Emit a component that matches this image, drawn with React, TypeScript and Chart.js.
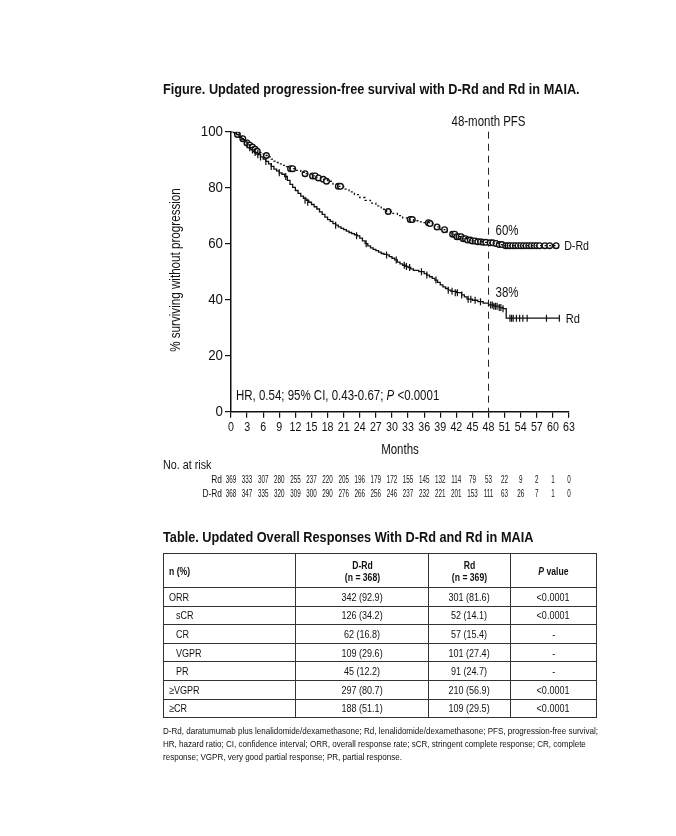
import React, { useEffect, useRef } from "react";
import { Chart, registerables } from "chart.js";

Chart.register(...registerables);

const FONT = "'Liberation Sans', Arial, sans-serif";
const SX = 0.82; // horizontal squeeze to mimic a narrow face

// Kaplan-Meier step points (months, % surviving without progression)
const rdMonths = [0, 0.5, 1, 1.5, 2, 2.5, 3, 3.5, 4, 4.5, 5, 5.5, 6, 6.5, 7, 7.5, 8, 8.5, 9, 9.5, 10, 10.5, 11, 11.5, 12, 12.5, 13, 13.5, 14, 14.5, 15, 15.5, 16, 16.5, 17, 17.5, 18, 18.5, 19, 19.5, 20, 20.5, 21, 21.5, 22, 22.5, 23, 23.5, 24, 24.5, 25, 25.5, 26, 26.5, 27, 27.5, 28, 28.5, 29, 29.5, 30, 30.5, 31, 31.5, 32, 32.5, 33, 33.5, 34, 35, 36, 36.5, 37, 37.5, 38, 38.5, 39, 39.5, 40, 40.5, 41, 42, 43, 43.5, 44, 45, 46, 47, 48, 49, 50, 50.7, 51.3, 61.2];
const rdSurv = [100, 99.7, 99, 98, 97.2, 96.4, 95.3, 94.3, 93.5, 92.6, 91.8, 91, 90.2, 89.4, 88.5, 87.6, 86.6, 86, 85.3, 84.8, 84, 82.6, 81.2, 80.1, 79, 78, 77, 76.2, 75.5, 74.8, 74, 73.2, 72.4, 71.4, 70.5, 69.5, 68.6, 68, 67.2, 66.6, 66, 65.5, 65, 64.5, 64, 63.6, 63.2, 62.8, 62, 61, 60, 59.2, 58.5, 58, 57.5, 57, 56.5, 56.2, 56, 55.4, 54.8, 54.2, 53.4, 52.8, 52.3, 51.9, 51.5, 51, 50.5, 50, 49.3, 48.8, 48.2, 47.6, 47, 46.2, 45.3, 44.6, 44, 43.4, 43, 42.5, 41.7, 41, 40.2, 39.8, 39.3, 38.8, 38.1, 37.7, 37.2, 36.8, 33.4, 33.4];

const drdMonths = [0, 0.5, 1, 1.5, 2, 2.5, 3, 3.5, 4, 4.5, 5, 5.5, 6, 6.5, 7, 7.5, 8, 8.5, 9, 9.5, 10, 10.5, 11, 12, 13, 14, 15, 16, 17, 18, 19, 20, 21, 22, 23, 24, 25, 26, 27, 28, 29, 30, 31, 32, 33, 34, 35, 36, 37, 38, 39, 40, 41, 42, 43, 44, 45, 46, 47, 48, 49, 50, 51, 60.6];
const drdSurv = [100, 99.6, 99, 98.3, 97.5, 96.8, 96, 95.2, 94.5, 93.7, 93, 92.5, 92, 91.5, 91, 90.2, 89.5, 89, 88.5, 88, 87.5, 87.1, 86.8, 86.2, 85.5, 85, 84.2, 83.5, 83, 82.3, 81.3, 80.5, 79.5, 78.5, 77.5, 76.5, 75.5, 74.5, 73.5, 72.3, 71.5, 70.8, 70, 69.2, 68.6, 68.2, 67.8, 67.5, 67.2, 66, 65, 64.2, 63.4, 62.5, 61.8, 61.3, 61, 60.7, 60.5, 60.3, 60.1, 59.7, 59.3, 59.3];

// Censoring marks
const rdCensorMonths = [2.5, 3, 3.5, 4, 4.5, 5, 5.5, 6.5, 7.5, 9, 10.2, 13.8, 14.3, 19.5, 23.4, 25.2, 29, 30.8, 32.3, 32.7, 33.3, 35.5, 36.5, 38.2, 40.5, 41.2, 41.8, 42.2, 43, 44.2, 44.7, 45.5, 46.5, 48.4, 48.7, 49, 49.3, 49.6, 50, 50.3, 50.7, 52, 52.3, 52.6, 53.2, 53.8, 54.4, 55.2, 58.8, 61.2];
const rdCensorSurv = [96.4, 95.3, 94.3, 93.5, 92.6, 91.8, 91, 89.4, 87.6, 85.3, 84, 75.5, 74.8, 66.6, 62.8, 60, 56, 54.2, 52.3, 51.9, 51.5, 50, 48.8, 47, 43.4, 43, 42.5, 42.5, 41.7, 40.2, 40.2, 39.8, 39.3, 38.1, 38.1, 37.7, 37.7, 37.7, 37.2, 37.2, 36.8, 33.4, 33.4, 33.4, 33.4, 33.4, 33.4, 33.4, 33.4, 33.4];

const drdCensorMonths = [1.2, 2.2, 3.0, 3.5, 4.0, 4.5, 4.9, 6.6, 11.1, 11.5, 13.8, 15.2, 15.7, 16.3, 17.2, 17.8, 20.0, 20.4, 29.3, 33.4, 33.8, 36.8, 37.1, 38.4, 39.8, 41.3, 41.7, 42.1, 42.5, 42.9, 43.3, 43.7, 44.1, 44.6, 45, 45.5, 46, 46.5, 47, 47.5, 48.3, 48.8, 49.4, 50, 50.5, 51.2, 51.6, 52, 52.5, 53, 53.5, 54, 54.5, 55, 55.5, 56, 56.5, 57, 57.5, 58.5, 59.4, 60.6];
const drdCensorSurv = [99, 97.5, 96, 95.2, 94.5, 93.7, 93, 91.5, 86.8, 86.8, 85, 84.2, 84.2, 83.5, 83, 82.3, 80.5, 80.5, 71.5, 68.6, 68.6, 67.5, 67.2, 66, 65, 63.4, 63.4, 62.5, 62.5, 62.5, 61.8, 61.8, 61.3, 61.3, 61, 61, 60.7, 60.7, 60.5, 60.5, 60.3, 60.3, 60.1, 59.7, 59.7, 59.3, 59.3, 59.3, 59.3, 59.3, 59.3, 59.3, 59.3, 59.3, 59.3, 59.3, 59.3, 59.3, 59.3, 59.3, 59.3, 59.3];

// Numbers at risk
const riskMonths = [0, 3, 6, 9, 12, 15, 18, 21, 24, 27, 30, 33, 36, 39, 42, 45, 48, 51, 54, 57, 60, 63];
const rdAtRisk = [369, 333, 307, 280, 255, 237, 220, 205, 196, 179, 172, 155, 145, 132, 114, 79, 53, 22, 9, 2, 1, 0];
const drdAtRisk = [368, 347, 335, 320, 309, 300, 290, 276, 266, 256, 246, 237, 232, 221, 201, 153, 111, 63, 26, 7, 1, 0];

// Table
const tableRows = ["ORR", "sCR", "CR", "VGPR", "PR", "≥VGPR", "≥CR"];
const tableIndent = [false, true, true, true, true, false, false];
const drdResp = ["342 (92.9)", "126 (34.2)", "62 (16.8)", "109 (29.6)", "45 (12.2)", "297 (80.7)", "188 (51.1)"];
const rdResp = ["301 (81.6)", "52 (14.1)", "57 (15.4)", "101 (27.4)", "91 (24.7)", "210 (56.9)", "109 (29.5)"];
const pValues = ["<0.0001", "<0.0001", "-", "-", "-", "<0.0001", "<0.0001"];

const footnoteLines = [
  "D-Rd, daratumumab plus lenalidomide/dexamethasone; Rd, lenalidomide/dexamethasone; PFS, progression-free survival;",
  "HR, hazard ratio; CI, confidence interval; ORR, overall response rate; sCR, stringent complete response; CR, complete",
  "response; VGPR, very good partial response; PR, partial response.",
];

const zip = (xs: number[], ys: number[]) => xs.map((x, i) => ({ x, y: ys[i] }));

function txt(ctx: CanvasRenderingContext2D, s: string, x: number, y: number, font: string, align: CanvasTextAlign, sx = SX) {
  ctx.save();
  ctx.font = font;
  ctx.textAlign = align;
  ctx.textBaseline = "middle";
  ctx.translate(x, y);
  ctx.scale(sx, 1);
  ctx.fillText(s, 0, 0);
  ctx.restore();
}

const textPlugin = {
  id: "kmText",
  beforeDatasetsDraw(chart: any) {
    const { ctx, scales } = chart;
    const x = scales.x, y = scales.y;
    const px = x.getPixelForValue(48);
    ctx.save();
    ctx.strokeStyle = "#222";
    ctx.lineWidth = 1;
    ctx.setLineDash([7, 5]);
    ctx.beginPath();
    ctx.moveTo(px, y.getPixelForValue(100));
    ctx.lineTo(px, y.getPixelForValue(0));
    ctx.stroke();
    ctx.restore();
  },
  afterDraw(chart: any) {
    const { ctx, scales } = chart;
    const x = scales.x, y = scales.y;
    ctx.save();
    ctx.fillStyle = "#111";

    // Figure title
    txt(ctx, "Figure. Updated progression-free survival with D-Rd and Rd in MAIA.", 163, 90, `bold 15.5px ${FONT}`, "left");

    // Tick labels
    x.ticks.forEach((t: any) => txt(ctx, String(t.value), x.getPixelForValue(t.value), 427, `13px ${FONT}`, "center"));
    y.ticks.forEach((t: any) => txt(ctx, String(t.value), 223, y.getPixelForValue(t.value), `14px ${FONT}`, "right", 0.95));

    // 48-month label and annotations
    const p48 = x.getPixelForValue(48);
    const af = `14px ${FONT}`;
    txt(ctx, "48-month PFS", p48, 122, af, "center");
    txt(ctx, "60%", p48 + 7, y.getPixelForValue(64.6), af, "left");
    txt(ctx, "38%", p48 + 7, y.getPixelForValue(42.5), af, "left");
    txt(ctx, "D-Rd", x.getPixelForValue(62.1), y.getPixelForValue(58.9), `13px ${FONT}`, "left");
    txt(ctx, "Rd", x.getPixelForValue(62.4), y.getPixelForValue(33.1), `13.5px ${FONT}`, "left");

    // HR text
    const hf = `14px ${FONT}`;
    const hfi = `italic 14px ${FONT}`;
    let hx = x.getPixelForValue(0) + 5;
    const hy = y.getPixelForValue(5.4);
    const t1 = "HR, 0.54; 95% CI, 0.43-0.67; ";
    txt(ctx, t1, hx, hy, hf, "left");
    ctx.font = hf;
    hx += ctx.measureText(t1).width * SX;
    txt(ctx, "P", hx, hy, hfi, "left");
    ctx.font = hfi;
    hx += ctx.measureText("P").width * SX;
    ctx.font = hf;
    hx += ctx.measureText(" ").width * SX;
    txt(ctx, "<0.0001", hx, hy, hf, "left");

    // Axis titles
    txt(ctx, "Months", (x.left + x.right) / 2, 450, `14px ${FONT}`, "center");
    ctx.save();
    ctx.translate(176, 270);
    ctx.rotate(-Math.PI / 2);
    txt(ctx, "% surviving without progression", 0, 0, `14.2px ${FONT}`, "center");
    ctx.restore();

    // Number at risk
    txt(ctx, "No. at risk", 163, 466, `12.5px ${FONT}`, "left", 0.86);
    const rf = `10.5px ${FONT}`;
    txt(ctx, "Rd", 222, 480, rf, "right", 0.8);
    txt(ctx, "D-Rd", 222, 494, rf, "right", 0.8);
    riskMonths.forEach((m, i) => {
      const xx = x.getPixelForValue(m);
      txt(ctx, String(rdAtRisk[i]), xx, 480, rf, "center", 0.6);
      txt(ctx, String(drdAtRisk[i]), xx, 494, rf, "center", 0.6);
    });
    ctx.restore();
  },
};

const Sq = ({ children, origin = "left" }: { children: React.ReactNode; origin?: string }) => (
  <span style={{ display: "inline-block", whiteSpace: "nowrap", transform: `scaleX(${SX})`, transformOrigin: origin }}>{children}</span>
);

export default function App() {
  const ref = useRef<HTMLCanvasElement>(null);
  useEffect(() => {
    if (!ref.current) return;
    const chart = new Chart(ref.current, {
      type: "line",
      data: {
        datasets: [
          {
            label: "D-Rd",
            data: zip(drdMonths, drdSurv),
            borderColor: "#111",
            borderWidth: 1.3,
            borderDash: [2, 2.5],
            stepped: "before",
            pointRadius: 0,
            fill: false,
          },
          {
            label: "Rd",
            data: zip(rdMonths, rdSurv),
            borderColor: "#111",
            borderWidth: 1.3,
            stepped: "before",
            pointRadius: 0,
            fill: false,
          },
          {
            label: "D-Rd censored",
            data: zip(drdCensorMonths, drdCensorSurv),
            showLine: false,
            pointStyle: "circle",
            pointRadius: 2.8,
            pointBorderWidth: 1.4,
            pointBackgroundColor: "#fff",
            pointBorderColor: "#111",
          },
          {
            label: "Rd censored",
            data: zip(rdCensorMonths, rdCensorSurv),
            showLine: false,
            pointStyle: "line",
            pointRotation: 90,
            pointRadius: 3.5,
            pointBorderWidth: 1.2,
            pointBorderColor: "#111",
          },
        ] as any,
      },
      options: {
        responsive: false,
        animation: false,
        events: [],
        layout: { padding: { left: 0, right: 107, top: 131.7, bottom: 394.3 } },
        plugins: { legend: { display: false }, tooltip: { enabled: false }, title: { display: false } },
        scales: {
          x: {
            type: "linear",
            min: 0,
            max: 63,
            afterFit: (s: any) => { s.height = 30; },
            ticks: { stepSize: 3, color: "rgba(0,0,0,0)", padding: 2, font: { family: FONT, size: 13 }, maxRotation: 0, autoSkip: false },
            grid: { display: true, drawOnChartArea: false, drawTicks: true, tickLength: 6, color: "#111", lineWidth: 1.2 },
            border: { display: true, color: "#111", width: 1.5 },
          },
          y: {
            type: "linear",
            min: 0,
            max: 100,
            afterFit: (s: any) => { s.width = 231; },
            ticks: { stepSize: 20, color: "rgba(0,0,0,0)", padding: 2, font: { family: FONT, size: 13 } },
            grid: { display: true, drawOnChartArea: false, drawTicks: true, tickLength: 6, color: "#111", lineWidth: 1.2 },
            border: { display: true, color: "#111", width: 1.5 },
          },
        },
      } as any,
      plugins: [textPlugin],
    });
    return () => chart.destroy();
  }, []);

  const cell: React.CSSProperties = { border: "1px solid #333", padding: "0 5px", height: 17.6, lineHeight: "16px", overflow: "visible" };
  const hcell: React.CSSProperties = { ...cell, height: 33, fontSize: 10.5, lineHeight: "12px", textAlign: "center" };
  return (
    <div style={{ position: "absolute", left: 0, top: 0, width: 676, height: 836, background: "#fff", fontFamily: FONT, color: "#111" }}>
      <canvas ref={ref} width={676} height={836} style={{ position: "absolute", left: 0, top: 0, width: 676, height: 836 }} />
      <div style={{ position: "absolute", left: 163, top: 527, fontWeight: "bold", fontSize: 15.5, lineHeight: "20px" }}>
        <Sq>Table. Updated Overall Responses With D-Rd and Rd in MAIA</Sq>
      </div>
      <table style={{ position: "absolute", left: 163, top: 553, width: 433, borderCollapse: "collapse", fontSize: 11, tableLayout: "fixed" }}>
        <colgroup>
          <col style={{ width: 132 }} />
          <col style={{ width: 133 }} />
          <col style={{ width: 82 }} />
          <col style={{ width: 86 }} />
        </colgroup>
        <thead>
          <tr>
            <th style={{ ...hcell, textAlign: "left" }}><Sq>n (%)</Sq></th>
            <th style={hcell}><Sq origin="center">D-Rd<br />(n = 368)</Sq></th>
            <th style={hcell}><Sq origin="center">Rd<br />(n = 369)</Sq></th>
            <th style={hcell}><Sq origin="center"><i>P</i> value</Sq></th>
          </tr>
        </thead>
        <tbody>
          {tableRows.map((r, i) => (
            <tr key={r}>
              <td style={{ ...cell, paddingLeft: tableIndent[i] ? 12 : 5 }}><Sq>{r}</Sq></td>
              <td style={{ ...cell, textAlign: "center" }}><Sq origin="center">{drdResp[i]}</Sq></td>
              <td style={{ ...cell, textAlign: "center" }}><Sq origin="center">{rdResp[i]}</Sq></td>
              <td style={{ ...cell, textAlign: "center" }}><Sq origin="center">{pValues[i]}</Sq></td>
            </tr>
          ))}
        </tbody>
      </table>
      <div style={{ position: "absolute", left: 163, top: 724, fontSize: 9.8, lineHeight: "13px" }}>
        {footnoteLines.map((l) => (
          <div key={l} style={{ whiteSpace: "nowrap", transform: `scaleX(${SX})`, transformOrigin: "left" }}>{l}</div>
        ))}
      </div>
    </div>
  );
}
